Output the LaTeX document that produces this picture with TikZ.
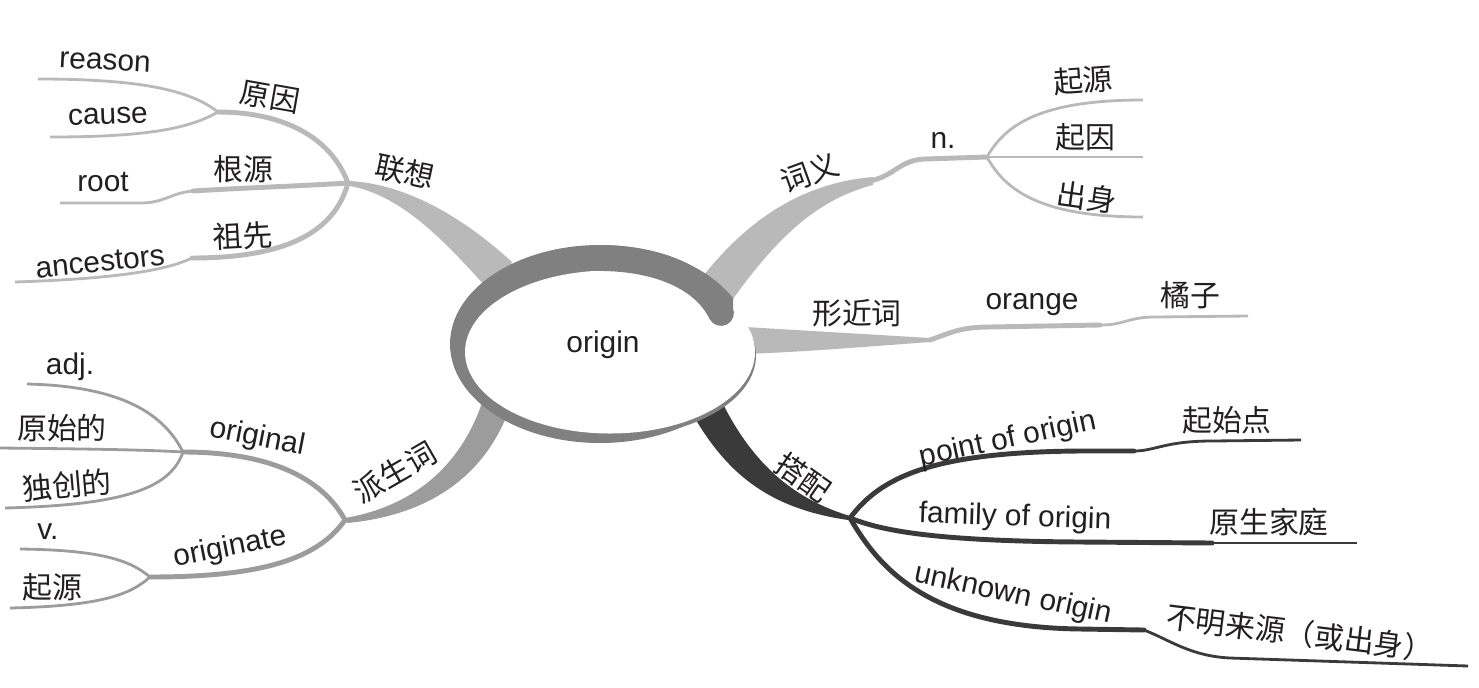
\documentclass[tikz,border=0pt]{standalone}
\usepackage{fontspec}
\setmainfont{Liberation Sans}
\newfontfamily\cjk{Noto Sans CJK SC}
\definecolor{InkBlack}{RGB}{35,31,32}
\definecolor{LinkGray}{RGB}{185,185,185}
\definecolor{RingGray}{RGB}{128,128,128}
\definecolor{DeriveGray}{RGB}{156,156,156}
\definecolor{CollocDark}{RGB}{58,58,58}
\tikzset{
  word/.style={font=\fontsize{17}{20}\selectfont,text=InkBlack,inner sep=1pt},
  zhword/.style={font=\cjk\fontsize{17}{20}\selectfont,text=InkBlack,inner sep=1pt},
  twig/.style={line width=2.8pt,line cap=round},
  leaf/.style={line width=1.6pt}
}

\begin{document}
\begin{tikzpicture}[x=0.02cm,y=-0.02cm]
  \useasboundingbox (0,0) rectangle (1479,687);
  % hubs, knees and free ends
  \coordinate (assochub) at (348,183);
  \coordinate (causehub) at (218,112);
  \coordinate (reasonend) at (38,79);
  \coordinate (causeend) at (50,137);
  \coordinate (rootknee) at (193,191);
  \coordinate (rootend) at (60,203);
  \coordinate (ancknee) at (192,258);
  \coordinate (ancend) at (15,282);
  \coordinate (senseknee) at (872,180.5);
  \coordinate (sensehub) at (987,157);
  \coordinate (sourceend) at (1143,100);
  \coordinate (reasonzhend) at (1143,157);
  \coordinate (birthend) at (1143,217);
  \coordinate (similarknee) at (930,340);
  \coordinate (orangestep) at (1100,325);
  \coordinate (orangeend) at (1248,316);
  \coordinate (derivedhub) at (345,520);
  \coordinate (originalhub) at (183,452);
  \coordinate (adjend) at (27,384);
  \coordinate (primitiveend) at (0,448);
  \coordinate (creativeend) at (5,508);
  \coordinate (originatehub) at (150,577);
  \coordinate (verbend) at (20,549);
  \coordinate (ariseend) at (10,608);
  \coordinate (collochub) at (850,518);
  \coordinate (pointstep) at (1134,451);
  \coordinate (pointend) at (1301,440);
  \coordinate (familystep) at (1212,543);
  \coordinate (familyend) at (1357,543);
  \coordinate (unknownstep) at (1144,630);
  \coordinate (unknownend) at (1468,666);

  % tapered main branches
  \fill[LinkGray] (350,181) .. controls (400,184) and (455,210) .. (512,262)
    -- (495,297) .. controls (450,247) and (405,196) .. (350,186) -- cycle;
  \fill[LinkGray] (700,280) .. controls (745,222) and (800,183) .. (873,177)
    -- (873,185) .. controls (815,200) and (775,240) .. (730,303) -- cycle;
  \fill[LinkGray] (745,327) -- (930,338) -- (930,342)
    .. controls (850,348) and (800,352) .. (745,354) -- cycle;
  \fill[DeriveGray] (483,400) .. controls (463,460) and (420,505) .. (345,518)
    -- (347,523) .. controls (422,516) and (480,482) .. (507,415) -- cycle;
  \fill[CollocDark] (693,415) .. controls (725,470) and (765,508) .. (848,520)
    -- (850,516) .. controls (790,498) and (750,460) .. (720,398) -- cycle;

  % association
  \draw[twig,LinkGray] (assochub) .. controls (330,135) and (280,112) .. (causehub);
  \draw[leaf,LinkGray] (causehub) .. controls (190,90) and (140,79) .. (reasonend);
  \draw[leaf,LinkGray] (causehub) .. controls (190,128) and (150,137) .. (causeend);
  \draw[twig,LinkGray] (assochub) .. controls (300,186) and (240,188) .. (rootknee);
  \draw[leaf,LinkGray] (rootknee) .. controls (170,193) and (165,203) .. (140,203) -- (rootend);
  \draw[twig,LinkGray] (assochub) .. controls (335,230) and (290,258) .. (ancknee);
  \draw[leaf,LinkGray] (ancknee) .. controls (175,266) and (140,278) .. (ancend);

  % sense
  \draw[twig,LinkGray] (senseknee) .. controls (895,175) and (900,160) .. (925,159) -- (sensehub);
  \draw[leaf,LinkGray] (sensehub) .. controls (1005,125) and (1040,100) .. (sourceend);
  \draw[leaf,LinkGray] (sensehub) -- (reasonzhend);
  \draw[leaf,LinkGray] (sensehub) .. controls (1005,190) and (1040,217) .. (birthend);

  % similar word
  \draw[twig,LinkGray] (similarknee) .. controls (950,333) and (960,327) .. (990,327) -- (orangestep);
  \draw[leaf,LinkGray] (orangestep) .. controls (1125,325) and (1128,317) .. (1155,317) -- (orangeend);

  % derived words
  \draw[twig,DeriveGray] (derivedhub) .. controls (322,478) and (270,452) .. (originalhub);
  \draw[twig,DeriveGray] (derivedhub) .. controls (318,558) and (265,577) .. (originatehub);
  \draw[leaf,DeriveGray] (originalhub) .. controls (162,410) and (115,386) .. (adjend);
  \draw[leaf,DeriveGray] (originalhub) .. controls (150,450) and (100,449) .. (primitiveend);
  \draw[leaf,DeriveGray] (originalhub) .. controls (170,490) and (120,505) .. (creativeend);
  \draw[leaf,DeriveGray] (originatehub) .. controls (130,560) and (100,550) .. (verbend);
  \draw[leaf,DeriveGray] (originatehub) .. controls (130,595) and (100,606) .. (ariseend);

  % collocations
  \draw[twig,CollocDark] (collochub) .. controls (880,478) and (930,452) .. (1080,451) -- (pointstep);
  \draw[leaf,CollocDark] (pointstep) .. controls (1155,451) and (1165,441) .. (1212,441) -- (pointend);
  \draw[twig,CollocDark] (collochub) .. controls (880,530) and (930,541) .. (1080,542) -- (familystep);
  \draw[leaf,CollocDark] (familystep) -- (familyend);
  \draw[twig,CollocDark] (collochub) .. controls (880,570) and (930,627) .. (1080,629) -- (unknownstep);
  \draw[leaf,CollocDark] (unknownstep) .. controls (1170,640) and (1190,656) .. (1230,658) -- (unknownend);

  % central ellipse
  \begin{scope}
    \clip (0,0) rectangle (733,687);
    \fill[RingGray] (600,344) ellipse [x radius=150, y radius=99];
  \end{scope}
  \fill[RingGray] (611,355.5) ellipse [x radius=145, y radius=82];
  \fill[white] (610,352) ellipse [x radius=145, y radius=81.5];
  \draw[RingGray,line width=14.7pt,line cap=round] (598,258) .. controls (662,258) and (705,280) .. (721,313);
  \node[word] (origin) at (603,345) {origin};

  % labels
  \node[word,rotate=-3] (reason) at (105,62) {reason};
  \node[word,rotate=2] (cause) at (108,116) {cause};
  \node[zhword,rotate=-10] (causezh) at (270,97) {原因};
  \node[word] (root) at (103,182) {root};
  \node[zhword] (rootzh) at (243,169) {根源};
  \node[zhword,rotate=3] (ancestorzh) at (243,236) {祖先};
  \node[word,rotate=6] (ancestors) at (100,262) {ancestors};
  \node[zhword,rotate=-12] (assoc) at (405,172) {联想};
  \node[zhword,rotate=20] (sense) at (810,173) {词义};
  \node[word] (noun) at (943,140) {n.};
  \node[zhword,rotate=4] (sourcezh) at (1083,80) {起源};
  \node[zhword] (reasonzh) at (1085,137) {起因};
  \node[zhword,rotate=-8] (birth) at (1087,197) {出身};
  \node[zhword] (similar) at (857,313) {形近词};
  \node[word] (orange) at (1032,305) {orange};
  \node[zhword] (orangezh) at (1190,295) {橘子};
  \node[zhword,rotate=30] (derived) at (395,472) {派生词};
  \node[word,rotate=-11] (original) at (257,438) {original};
  \node[word] (adj) at (70,367) {adj.};
  \node[zhword] (primitive) at (62,428) {原始的};
  \node[zhword,rotate=5] (creative) at (67,485) {独创的};
  \node[word,rotate=11] (originate) at (230,548) {originate};
  \node[word] (verb) at (48,532) {v.};
  \node[zhword] (arise) at (52,587) {起源};
  \node[zhword,rotate=-35] (colloc) at (803,477) {搭配};
  \node[word,rotate=12] (point) at (1008,440) {point of origin};
  \node[zhword] (pointzh) at (1227,420) {起始点};
  \node[word,rotate=-2] (family) at (1015,518) {family of origin};
  \node[zhword] (familyzh) at (1269,522) {原生家庭};
  \node[word,rotate=-12] (unknown) at (1013,595) {unknown origin};
  \node[zhword,rotate=-7] (unknownzh) at (1300,633) {不明来源（或出身）};
\end{tikzpicture}
\end{document}
